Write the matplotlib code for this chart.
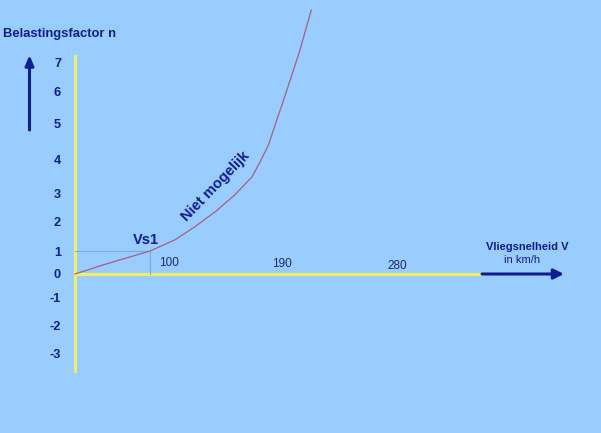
import numpy as np
import matplotlib
matplotlib.use("Agg")
import matplotlib.pyplot as plt

plt.rcParams["font.family"] = ["Liberation Sans", "DejaVu Sans"]

# load factor ticks and where they sit on the drawing (pixels from top)
n_ticks = [-3, -2, -1, 0, 1, 2, 3, 4, 5, 6, 7]
n_tick_px = [353.5, 325.5, 297, 274, 251, 222, 193.5, 159.5, 124, 91, 62.5]

# curve: speed V (km/h) vs load factor n
curve_v = [0, 37, 73, 100, 133, 160, 187, 213, 236, 247, 258, 269, 276, 287, 300, 315]
curve_n = [0, 0.39, 0.74, 1.0, 1.38, 1.84, 2.36, 2.95, 3.49, 3.94, 4.41, 5.12, 5.58, 6.39, 7.44, 8.84]

vs1 = 100
n_vs1 = 1
speed_labels = ["100", "190", "280"]

W, H = 601, 433
bg = "#99CCFF"
navy = "#0F1E8C"
yellow = "#EEF06C"

# piecewise scale for the hand-drawn y axis
nk = np.array([-30] + n_ticks + [30], dtype=float)
pk = np.array([n_tick_px[0] + 27 * 28] + n_tick_px + [n_tick_px[-1] - 23 * 28.5])
yk = H - pk


def fwd(n):
    return np.interp(n, nk, yk)


def inv(y):
    return np.interp(y, yk, nk)


fig = plt.figure(figsize=(W / 100, H / 100), dpi=100, facecolor=bg)
ax = fig.add_axes([0, 0, 1, 1], facecolor=bg)
ax.set_yscale("function", functions=(fwd, inv))
px_per_kmh = 0.75
x0 = 75
ax.set_xlim(-x0 / px_per_kmh, (W - x0) / px_per_kmh)
ax.set_ylim(float(inv(0)), float(inv(H)))

for s in ["top", "right"]:
    ax.spines[s].set_visible(False)
ax.spines["left"].set_position(("data", 0))
ax.spines["bottom"].set_position(("data", 0))
ax.spines["left"].set_color(yellow)
ax.spines["bottom"].set_color(yellow)
ax.spines["left"].set_linewidth(2.3)
ax.spines["bottom"].set_linewidth(2.3)
ax.spines["left"].set_bounds(-3.62, 7.24)
ax.spines["bottom"].set_bounds(0, (482.7 - x0) / px_per_kmh)
ax.spines["left"].set_zorder(1)
ax.spines["bottom"].set_zorder(1)

ax.set_yticks(n_ticks)
ax.set_yticklabels([str(t) for t in n_ticks])
ax.set_xticks([])
ax.tick_params(axis="y", length=0, pad=10, labelsize=9.2, labelcolor=navy)
for lab in ax.get_yticklabels():
    lab.set_fontweight("bold")

# Vs1 guide lines
ax.plot([0, vs1], [n_vs1, n_vs1], color="#80AADA", lw=0.8, zorder=2)
ax.plot([vs1, vs1], [0, n_vs1], color="#80AADA", lw=0.8, zorder=2)

# curve
ax.plot(curve_v, curve_n, color="#A8607E", lw=0.9, zorder=3)


def fp(x, y):
    return x / W, 1 - y / H


# axis arrows
ax.annotate("", xy=fp(564, 274), xytext=fp(482, 274), xycoords="axes fraction",
            arrowprops=dict(arrowstyle="-|>,head_length=0.6,head_width=0.3",
                            color=navy, lw=2.2, shrinkA=0, shrinkB=0))
ax.annotate("", xy=fp(29.5, 55), xytext=fp(29.5, 130), xycoords="axes fraction",
            arrowprops=dict(arrowstyle="-|>,head_length=0.6,head_width=0.25",
                            color=navy, lw=2.2, shrinkA=0, shrinkB=0))

tr = ax.transAxes
ax.text(*fp(3, 37.3), "Belastingsfactor n", transform=tr, fontsize=9.4, fontweight="bold",
        color=navy, ha="left", va="baseline")
ax.text(*fp(527, 249.5), "Vliegsnelheid V", transform=tr, fontsize=8, fontweight="bold",
        color=navy, ha="center", va="baseline")
ax.text(*fp(522, 263), "in km/h", transform=tr, fontsize=8, color=navy,
        ha="center", va="baseline")
ax.text(*fp(146, 244), "Vs1", transform=tr, fontsize=10.5, fontweight="bold",
        color=navy, ha="center", va="baseline")
ax.text(*fp(216, 186), "Niet mogelijk", transform=tr, fontsize=10.5, fontweight="bold",
        color=navy, ha="center", va="center", rotation=46, rotation_mode="anchor")

for lab, (x, y) in zip(speed_labels, [(169, 266), (282, 267), (397, 269)]):
    ax.text(*fp(x, y), lab, transform=tr, fontsize=8.5, color="#1F2A66",
            ha="center", va="baseline")

fig.savefig("out.png", dpi=100, facecolor=bg)
